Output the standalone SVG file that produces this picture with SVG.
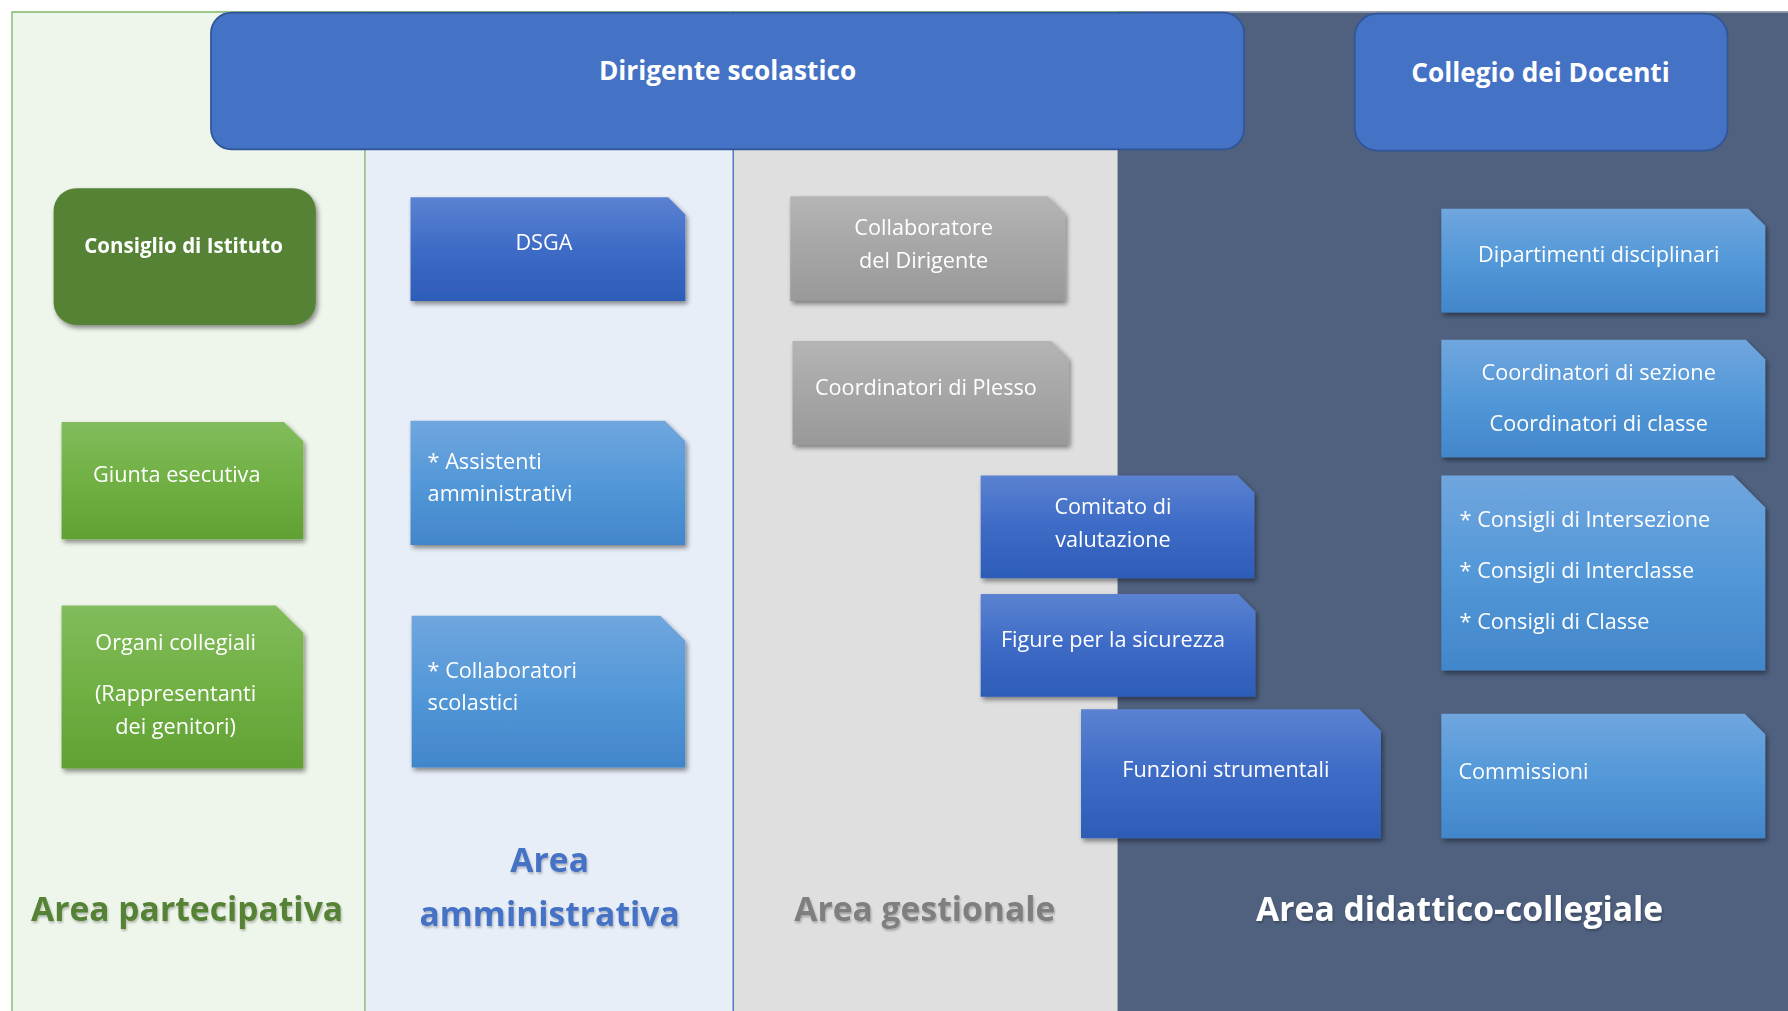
<svg xmlns="http://www.w3.org/2000/svg" width="1788" height="1011" viewBox="0 0 1788 1011">
<style>
  .t { font-family: "Open Sans", "Liberation Sans", sans-serif; fill: #ffffff; font-size: 19px; }
  .c { text-anchor: middle; }
  .b { font-weight: bold; }
  .head { font-family: "Open Sans", "Liberation Sans", sans-serif; font-weight: bold; font-size: 23px; fill: #ffffff; text-anchor: middle; }
  .area { font-family: "Open Sans", "Liberation Sans", sans-serif; font-weight: bold; font-size: 29.5px; text-anchor: middle; }
  .round { fill: #4472C4; stroke: #2F5597; stroke-width: 1.5; }
</style>
<defs>
  <linearGradient id="gBlue" x1="0" y1="0" x2="0" y2="1">
    <stop offset="0" stop-color="#5B82D1"/>
    <stop offset="0.5" stop-color="#3D6BC6"/>
    <stop offset="1" stop-color="#2D5CB7"/>
  </linearGradient>
  <linearGradient id="gLight" x1="0" y1="0" x2="0" y2="1">
    <stop offset="0" stop-color="#70A6DE"/>
    <stop offset="0.5" stop-color="#5398D8"/>
    <stop offset="1" stop-color="#4286CA"/>
  </linearGradient>
  <linearGradient id="gGreen" x1="0" y1="0" x2="0" y2="1">
    <stop offset="0" stop-color="#82BC5C"/>
    <stop offset="0.5" stop-color="#70B044"/>
    <stop offset="1" stop-color="#61A133"/>
  </linearGradient>
  <linearGradient id="gGray" x1="0" y1="0" x2="0" y2="1">
    <stop offset="0" stop-color="#B5B5B5"/>
    <stop offset="0.5" stop-color="#A6A6A6"/>
    <stop offset="1" stop-color="#999999"/>
  </linearGradient>
  <filter id="sh" x="-10%" y="-10%" width="125%" height="130%">
    <feGaussianBlur in="SourceAlpha" stdDeviation="2.5"/>
    <feOffset dx="2" dy="3" result="o"/>
    <feComponentTransfer><feFuncA type="linear" slope="0.45"/></feComponentTransfer>
    <feMerge><feMergeNode/><feMergeNode in="SourceGraphic"/></feMerge>
  </filter>
  <filter id="tsh" x="-5%" y="-20%" width="110%" height="150%">
    <feGaussianBlur in="SourceAlpha" stdDeviation="1"/>
    <feOffset dx="1" dy="1.5"/>
    <feComponentTransfer><feFuncA type="linear" slope="0.25"/></feComponentTransfer>
    <feMerge><feMergeNode/><feMergeNode in="SourceGraphic"/></feMerge>
  </filter>
</defs>
<rect width="1788" height="1011" fill="#ffffff"/>
<g transform="scale(1.14031)">
  <g id="panels">
    <rect x="10" y="10" width="310" height="877" fill="#EEF5EA"/>
    <rect x="320" y="10" width="323" height="877" fill="#E8EEF8"/>
    <rect x="643" y="10" width="337" height="877" fill="#DFDFDF"/>
    <rect x="980" y="10" width="588" height="877" fill="#4F617F"/>
    <path d="M10.5 887 V10.5 H1000" fill="none" stroke="#84B66A" stroke-width="1.2"/>
    <line x1="1000" y1="10.5" x2="1568" y2="10.5" stroke="#9AA3B0" stroke-width="1.2"/>
    <line x1="320" y1="10" x2="320" y2="887" stroke="#84B66A" stroke-width="1.2"/>
    <line x1="643" y1="10" x2="643" y2="887" stroke="#4472C4" stroke-width="1.2"/>
  </g>

  <g id="connectors"></g>

  <g id="dirigente">
    <rect class="round" x="185" y="11" width="906" height="120" rx="18"/>
    <text class="head" x="638" y="70">Dirigente scolastico</text>
  </g>
  <g id="collegio">
    <rect class="round" x="1188" y="12" width="327" height="120" rx="20"/>
    <text class="head" x="1351" y="72">Collegio dei Docenti</text>
  </g>
  <g id="consiglio-istituto" filter="url(#sh)">
    <rect x="47" y="165" width="230" height="120" rx="20" fill="#548235"/>
    <text class="t c b" x="161" y="222" style="font-size:18px">Consiglio di Istituto</text>
  </g>

  <g id="giunta" filter="url(#sh)">
    <path d="M54 370 H249 L266 387 V473 H54 Z" fill="url(#gGreen)"/>
    <text class="t c" x="155" y="423">Giunta esecutiva</text>
  </g>
  <g id="organi" filter="url(#sh)">
    <path d="M54 531 H242 L266 555 V674 H54 Z" fill="url(#gGreen)"/>
    <text class="t c" x="154" y="570">Organi collegiali</text>
    <text class="t c" x="154" y="615">(Rappresentanti</text>
    <text class="t c" x="154" y="644">dei genitori)</text>
  </g>

  <g id="dsga" filter="url(#sh)">
    <path d="M360 173 H586 L601 188 V264 H360 Z" fill="url(#gBlue)"/>
    <text class="t c" x="477" y="219">DSGA</text>
  </g>
  <g id="assistenti" filter="url(#sh)">
    <path d="M360 369 H583 L601 387 V478 H360 Z" fill="url(#gLight)"/>
    <text class="t" x="375" y="411">* Assistenti</text>
    <text class="t" x="375" y="439">amministrativi</text>
  </g>
  <g id="collaboratori-scolastici" filter="url(#sh)">
    <path d="M361 540 H579 L601 562 V673 H361 Z" fill="url(#gLight)"/>
    <text class="t" x="375" y="595">* Collaboratori</text>
    <text class="t" x="375" y="623">scolastici</text>
  </g>

  <g id="collaboratore-dirigente" filter="url(#sh)">
    <path d="M693 172 H919 L934 187 V264 H693 Z" fill="url(#gGray)"/>
    <text class="t c" x="810" y="206">Collaboratore</text>
    <text class="t c" x="810" y="235">del Dirigente</text>
  </g>
  <g id="coordinatori-plesso" filter="url(#sh)">
    <path d="M695 299 H922 L937 314 V390 H695 Z" fill="url(#gGray)"/>
    <text class="t c" x="812" y="346">Coordinatori di Plesso</text>
  </g>
  <g id="comitato" filter="url(#sh)">
    <path d="M860 417 H1085 L1100 432 V507 H860 Z" fill="url(#gBlue)"/>
    <text class="t c" x="976" y="451">Comitato di</text>
    <text class="t c" x="976" y="480">valutazione</text>
  </g>
  <g id="figure-sicurezza" filter="url(#sh)">
    <path d="M860 521 H1086 L1101 536 V611 H860 Z" fill="url(#gBlue)"/>
    <text class="t c" x="976" y="567">Figure per la sicurezza</text>
  </g>
  <g id="funzioni" filter="url(#sh)">
    <path d="M948 622 H1192 L1211 641 V735 H948 Z" fill="url(#gBlue)"/>
    <text class="t c" x="1075" y="681">Funzioni strumentali</text>
  </g>

  <g id="dipartimenti" filter="url(#sh)">
    <path d="M1264 183 H1533 L1548 198 V274 H1264 Z" fill="url(#gLight)"/>
    <text class="t c" x="1402" y="230">Dipartimenti disciplinari</text>
  </g>
  <g id="coordinatori" filter="url(#sh)">
    <path d="M1264 298 H1531 L1548 315 V401 H1264 Z" fill="url(#gLight)"/>
    <text class="t c" x="1402" y="333">Coordinatori di sezione</text>
    <text class="t c" x="1402" y="378">Coordinatori di classe</text>
  </g>
  <g id="consigli" filter="url(#sh)">
    <path d="M1264 417 H1520 L1548 445 V588 H1264 Z" fill="url(#gLight)"/>
    <text class="t" x="1280" y="462">* Consigli di Intersezione</text>
    <text class="t" x="1280" y="507">* Consigli di Interclasse</text>
    <text class="t" x="1280" y="552">* Consigli di Classe</text>
  </g>
  <g id="commissioni" filter="url(#sh)">
    <path d="M1264 626 H1530 L1548 644 V735 H1264 Z" fill="url(#gLight)"/>
    <text class="t" x="1279" y="683">Commissioni</text>
  </g>

  <g id="area-labels" filter="url(#tsh)">
    <text class="area" x="164" y="808" fill="#548235">Area partecipativa</text>
    <text class="area" x="482" y="765" fill="#4472C4">Area</text>
    <text class="area" x="482" y="812" fill="#4472C4">amministrativa</text>
    <text class="area" x="811" y="808" fill="#7F7F7F">Area gestionale</text>
    <text class="area" x="1280" y="808" fill="#FFFFFF">Area didattico-collegiale</text>
  </g>
</g>
</svg>
